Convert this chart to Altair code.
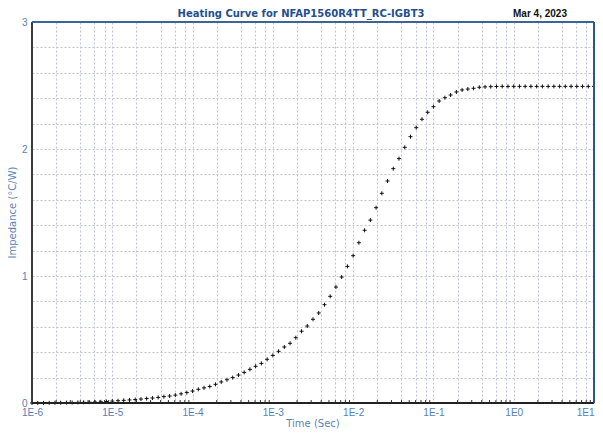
import altair as alt
import pandas as pd

# ---- data -------------------------------------------------------------
# 14 log-spaced samples per decade, from 1E-6 s to 1E1 s
mantissas = [1.0, 1.179, 1.389, 1.638, 1.931, 2.276, 2.683, 3.162,
             3.728, 4.394, 5.179, 6.105, 7.197, 8.483]
decades = [-6, -5, -4, -3, -2, -1, 0]
last_time = 10.0

impedance = [
    0.000, 0.0004, 0.0008, 0.0012, 0.0017, 0.0023, 0.003, 0.0038, 0.0046, 0.0055,
    0.0065, 0.008, 0.0095, 0.012, 0.015, 0.018, 0.021, 0.024, 0.027, 0.031,
    0.035, 0.039, 0.044, 0.050, 0.055, 0.062, 0.072, 0.082, 0.094, 0.108,
    0.119, 0.130, 0.147, 0.166, 0.183, 0.200, 0.220, 0.241, 0.265, 0.289,
    0.312, 0.344, 0.375, 0.407, 0.441, 0.470, 0.514, 0.565, 0.606, 0.659,
    0.709, 0.774, 0.840, 0.913, 0.992, 1.076, 1.160, 1.262, 1.360, 1.440,
    1.538, 1.651, 1.748, 1.845, 1.924, 2.013, 2.097, 2.168, 2.234, 2.289,
    2.333, 2.378, 2.404, 2.425, 2.449, 2.465, 2.472, 2.478, 2.486, 2.489,
    2.491, 2.492, 2.493, 2.493, 2.493, 2.493, 2.493, 2.493, 2.493, 2.493,
    2.493, 2.493, 2.493, 2.493, 2.493, 2.493, 2.493, 2.493, 2.493,
]

grid_mult = [1, 2, 4, 6, 8]
minor_mult = [2, 3, 4, 5, 6, 7, 8, 9]
y_grid = [0.0, 0.2, 0.4, 0.6, 0.8, 1.0, 1.2, 1.4, 1.6, 1.8, 2.0,
          2.2, 2.4, 2.6, 2.8, 3.0]

title_text = "Heating Curve for NFAP1560R4TT_RC-IGBT3"
date_text = "Mar 4, 2023"
x_title = "Time (Sec)"
y_title = "Impedance (°C/W)"

# ---- tables -----------------------------------------------------------
times = [m * 10.0 ** d for d in decades for m in mantissas] + [last_time]
df = pd.DataFrame({"t": times, "z": impedance})
grid_x = [m * 10.0 ** d for d in decades for m in grid_mult] + [last_time]
minor_df = pd.DataFrame({"t": [m * 10.0 ** d for d in decades for m in minor_mult]})

W, H = 562, 381
LABEL_BLUE = "#5580b8"
TITLE_BLUE = "#1f4f8f"
AXTITLE_BLUE = "#5b85b8"
GRID = "#c2c2d6"

xscale = alt.Scale(type="log", domain=[1e-6, 10], nice=False)
yscale = alt.Scale(domain=[0, 3], nice=False, zero=False)

decade_expr = "round(log(datum.value)/LN10)"
x_axis = alt.Axis(
    values=grid_x,
    labelExpr=f"abs(log(datum.value)/LN10 - {decade_expr}) < 0.01 ? '1E' + {decade_expr} : ''",
    labelAlign={"expr": "datum.value > 5 ? 'right' : 'center'"},
    grid=True, gridColor=GRID, gridDash=[2, 2], gridWidth=1,
    ticks=False, domain=False, labelFlush=False, labelOverlap=False,
    labelPadding=4, labelFontSize=10, labelFont="Liberation Sans",
    labelColor=LABEL_BLUE, title=None,
)
y_axis = alt.Axis(
    values=y_grid,
    labelExpr="abs(datum.value - round(datum.value)) < 0.001 ? format(datum.value, 'd') : ''",
    grid=True, gridColor=GRID, gridDash=[2, 2], gridWidth=1,
    ticks=False, domain=False, labelFlush=False, labelOverlap=False,
    labelPadding=5, labelFontSize=10, labelFont="Liberation Sans",
    labelColor=LABEL_BLUE, title=None,
)

points = alt.Chart(df).mark_point(
    shape="M-1,0L1,0M0,-1L0,1", filled=False, size=16, strokeWidth=1,
    color="#111111", opacity=1,
).encode(
    x=alt.X("t:Q", scale=xscale, axis=x_axis),
    y=alt.Y("z:Q", scale=yscale, axis=y_axis),
)

minor_ticks = alt.Chart(minor_df).mark_rule(color="#333333", strokeWidth=1).encode(
    x=alt.X("t:Q", scale=xscale, axis=x_axis),
    y=alt.value(H), y2=alt.value(H - 3),
)

one = pd.DataFrame({"k": [0]})
left_border = alt.Chart(one).mark_rule(color="#3c3c3c", strokeWidth=2).encode(
    x=alt.value(0), y=alt.value(0), y2=alt.value(H))
bottom_border = alt.Chart(one).mark_rule(color="#222222", strokeWidth=2).encode(
    x=alt.value(0), x2=alt.value(W), y=alt.value(H))
top_border = alt.Chart(one).mark_rule(color="#3c6596", strokeWidth=2).encode(
    x=alt.value(0), x2=alt.value(W), y=alt.value(0))
right_border = alt.Chart(one).mark_rule(color="#2c5590", strokeWidth=2).encode(
    x=alt.value(W), y=alt.value(0), y2=alt.value(H))

title_mark = alt.Chart(one).mark_text(
    text=title_text, font="DejaVu Sans", fontSize=10, fontWeight="bold",
    color=TITLE_BLUE, align="center", baseline="middle",
).encode(x=alt.value(269), y=alt.value(-8))

date_mark = alt.Chart(one).mark_text(
    text=date_text, font="Liberation Sans", fontSize=10, fontWeight="bold",
    color="#111111", align="center", baseline="middle",
).encode(x=alt.value(508), y=alt.value(-8))

x_title_mark = alt.Chart(one).mark_text(
    text=x_title, font="DejaVu Sans", fontSize=10,
    color=AXTITLE_BLUE, align="center", baseline="middle",
).encode(x=alt.value(W / 2), y=alt.value(H + 21))

y_title_mark = alt.Chart(one).mark_text(
    text=y_title, font="DejaVu Sans", fontSize=10, angle=270,
    color=AXTITLE_BLUE, align="center", baseline="middle",
).encode(x=alt.value(-19), y=alt.value(H / 2))

chart = alt.layer(
    points, minor_ticks, left_border, bottom_border, top_border, right_border,
    title_mark, date_mark, x_title_mark, y_title_mark,
).properties(
    width=W, height=H,
    autosize=alt.AutoSizeParams(type="none"),
    padding={"left": 24, "top": 14, "right": 1, "bottom": 26},
    background="white",
).configure_view(stroke=None)

chart.save("out.html", embed_options={"renderer": "svg", "actions": False})
